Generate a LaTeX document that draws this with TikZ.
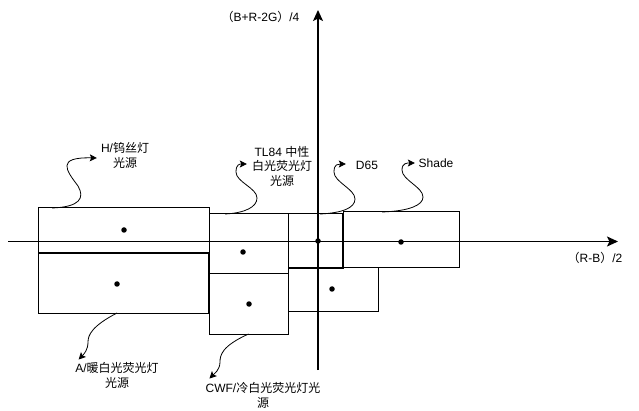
\documentclass[tikz,border=0pt]{standalone}
\usepackage{fontspec}
\setmainfont{Liberation Sans}
\newfontfamily\cjk{Noto Sans CJK SC}
\usetikzlibrary{arrows.meta,calc}
\begin{document}
\begin{tikzpicture}[x=1pt,y=-1pt,
  box/.style={draw, line width=1pt, inner sep=0, outer sep=0},
  dot/.style={circle, fill, inner sep=0, minimum size=5.5pt},
  lbl/.style={inner sep=0, align=center, font=\fontsize{12}{14.5}\selectfont},
  axis/.style={line width=1.5pt, -{Stealth[length=11pt,width=10pt,inset=2.5pt]}},
  conn/.style={line width=0.8pt, -{Stealth[length=7pt,width=7pt,inset=1.5pt]}}]
\useasboundingbox (0,0) rectangle (639,411);

% boxes
\node[box, minimum width=171pt, minimum height=45pt] (hbox) at (123.5,230.5) {};
\node[box, minimum width=170pt, minimum height=60pt] (abox) at (123,283) {};
\node[box, minimum width=79pt, minimum height=60pt] (tbox) at (248.5,244) {};
\node[box, minimum width=79pt, minimum height=60pt] (cbox) at (248.5,304) {};
\node[box, minimum width=90pt, minimum height=43pt] (lbox) at (333,289.5) {};
\node[box, minimum width=116pt, minimum height=56pt] (sbox) at (401,240) {};
\node[box, minimum width=55pt, minimum height=54pt] (dbox) at (315.5,241) {};
\draw[line width=2pt] (dbox.north east) -- (dbox.south east) -- (dbox.south west);
\draw[line width=2pt] (abox.north west) -- (abox.north east);

% axes
\coordinate (xs) at (8,241.5);
\coordinate (xe) at (618,241.5);
\coordinate (ys) at (318,370);
\coordinate (ye) at (318,10);
\draw[axis] (xs) -- (xe);
\draw[axis] (ys) -- (ye);

% dots
\node[dot] (hd) at (124,230) {};
\node[dot] (ad) at (117,284) {};
\node[dot] (td) at (243,252) {};
\node[dot] (cd) at (249,304) {};
\node[dot] (dd) at (318,241) {};
\node[dot] (sd) at (401,242) {};
\node[dot] (ld) at (332,289) {};

% labels
\node[lbl] (yl) at (260.5,17) {{\cjk （}B+R-2G{\cjk ）}/4};
\node[lbl] (xl) at (595,258) {{\cjk （}R-B{\cjk ）}/2};
\node[lbl] (hl) at (125,155.5) {H/{\cjk 钨丝灯}\\{\cjk 光源}};
\node[lbl] (tl) at (282,166) {TL84 {\cjk 中性}\\{\cjk 白光荧光灯}\\{\cjk 光源}};
\node[lbl] (dl) at (367,165) {D65};
\node[lbl] (sl) at (436,163) {Shade};
\node[lbl] (al) at (117,375.5) {A/{\cjk 暖白光荧光灯}\\{\cjk 光源}};
\node[lbl] (cl) at (263,395.5) {CWF/{\cjk 冷白光荧光灯光}\\{\cjk 源}};

% connectors
\draw[conn] ($(hbox.north west)+(14,0)$) .. controls (80,207) and (85,198) .. (78,186)
  .. controls (66,170) and (56,157) .. ($(hl.west)+(-4,2.5)$);
\draw[conn] ($(tbox.north west)+(16,0)$) .. controls (245,213) and (257,207) .. (257,198)
  .. controls (257,188) and (236,182) .. (236,172)
  .. controls (236,164) and (240,164) .. ($(tl.west)+(-5,-2)$);
\draw[conn] ($(dbox.north west)+(32,0)$) .. controls (342,213) and (355,208) .. (355,199)
  .. controls (355,189) and (334,182) .. (334,172)
  .. controls (334,164) and (338,164) .. ($(dl.west)+(-10,-1)$);
\draw[conn] ($(sbox.north west)+(39,0)$) .. controls (410,211) and (423,205) .. (423,197)
  .. controls (423,187) and (402,180) .. (402,170)
  .. controls (402,163) and (407,163) .. ($(sl.west)+(-3.6,0)$);
\draw[conn] ($(abox.south)+(-6,0)$) .. controls (92,326) and (88,335) .. (88,342)
  .. controls (88,350) and (84,354) .. ($(al.north west)+(3.5,-3)$);
\draw[conn] (cbox.south) .. controls (222,346) and (220,355) .. (220,362)
  .. controls (220,370) and (214,374) .. ($(cl.north west)+(4,-4)$);
\end{tikzpicture}
\end{document}
